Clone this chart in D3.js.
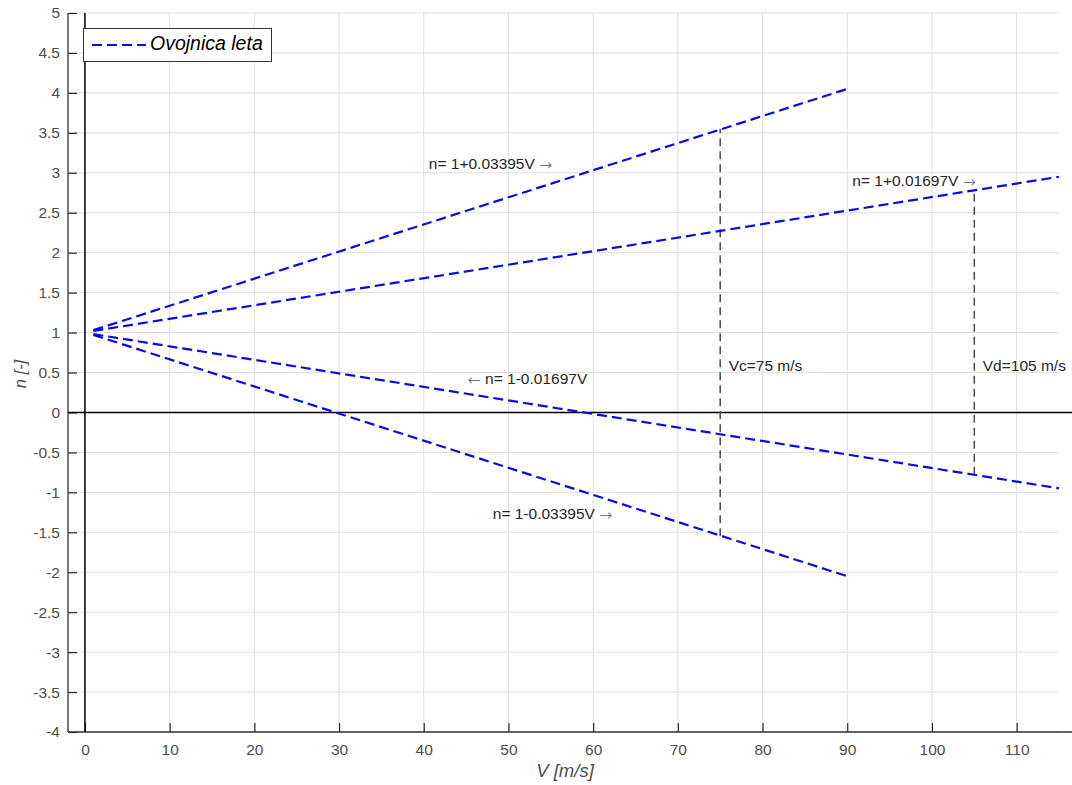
<!DOCTYPE html>
<html><head><meta charset="utf-8">
<script src="https://cdn.jsdelivr.net/npm/d3@7"></script>
<style>
body{margin:0;background:#fff;}
svg{display:block;font-family:"Liberation Sans",Arial,sans-serif;}
</style></head>
<body><svg id="c" width="1072" height="785"></svg>
<script>
// ---- data ----
const xTicks = [0,10,20,30,40,50,60,70,80,90,100,110];
const yTicks = [-4,-3.5,-3,-2.5,-2,-1.5,-1,-0.5,0,0.5,1,1.5,2,2.5,3,3.5,4,4.5,5];
const lineUpperSteep = [[1,1.03],[90,4.05]];
const lineUpperShallow = [[1,1.02],[115,2.95]];
const lineLowerShallow = [[1,0.98],[115,-0.95]];
const lineLowerSteep = [[1,0.97],[90,-2.05]];
const vcLine = [[75,-1.55],[75,3.55]];
const vdLine = [[105,-0.78],[105,2.78]];
const labelTexts = [["","n= 1+0.03395V ","\u2192"],["","n= 1+0.01697V ","\u2192"],["\u2190"," n= 1-0.01697V",""],["","n= 1-0.03395V ","\u2192"],["","Vc=75 m/s",""],["","Vd=105 m/s",""]];
const labelAnchors = [[40.6,3.10],[90.6,2.885],[45.2,0.41],[48.15,-1.28],[76,0.57],[106,0.57]];
const legendLabel = "Ovojnica leta";
const xLabel = "V [m/s]";
const yLabel = "n [-]";

// ---- layout ----
const L=68,R=1059,T=13,B=732;
const x=d3.scaleLinear().domain([-2,115]).range([L,R]);
const y=d3.scaleLinear().domain([-4,5]).range([B,T]);
const svg=d3.select("#c");

// grid
svg.append("g").selectAll("line").data(xTicks).join("line")
  .attr("x1",d=>x(d)).attr("x2",d=>x(d)).attr("y1",T).attr("y2",B)
  .attr("stroke","#e0e0e0").attr("stroke-width",1);
svg.append("g").selectAll("line").data(yTicks).join("line")
  .attr("x1",L).attr("x2",R).attr("y1",d=>y(d)).attr("y2",d=>y(d))
  .attr("stroke","#e0e0e0").attr("stroke-width",1);

// axes (inward ticks)
const xAxis=d3.axisBottom(x).tickValues(xTicks).tickSize(-9).tickPadding(12).tickFormat(d3.format("d"));
const gx=svg.append("g").attr("transform",`translate(0,${B})`).call(xAxis);
const yAxis=d3.axisLeft(y).tickValues(yTicks).tickSize(-9).tickPadding(8).tickFormat(d=>String(d));
const gy=svg.append("g").attr("transform",`translate(${L},0)`).call(yAxis);
[gx,gy].forEach(g=>{
  g.select(".domain").remove();
  g.selectAll(".tick line").attr("stroke","#262626").attr("stroke-width",1.2);
  g.selectAll(".tick text").attr("fill","#4d4d4d").style("font-size","15.5px").style("font-family","Liberation Sans, Arial, sans-serif");
});
svg.append("line").attr("x1",L).attr("x2",L).attr("y1",T).attr("y2",B).attr("stroke","#333").attr("stroke-width",1.3);
svg.append("line").attr("x1",L).attr("x2",R+18).attr("y1",B).attr("y2",B).attr("stroke","#333").attr("stroke-width",1.3);

// zero lines
svg.append("line").attr("x1",x(0)).attr("x2",x(0)).attr("y1",T).attr("y2",B).attr("stroke","#000").attr("stroke-width",1.5);
svg.append("line").attr("x1",L).attr("x2",R+18).attr("y1",y(0)).attr("y2",y(0)).attr("stroke","#000").attr("stroke-width",1.5);

const line=d3.line().x(d=>x(d[0])).y(d=>y(d[1]));
// vertical gray dashed
[vcLine,vdLine].forEach(p=>{
  svg.append("path").attr("d",line(p)).attr("fill","none").attr("stroke","#4a4a4a")
    .attr("stroke-width",1.5).attr("stroke-dasharray","8,5");
});
// envelope lines
[lineUpperSteep,lineUpperShallow,lineLowerShallow,lineLowerSteep].forEach(p=>{
  svg.append("path").attr("d",line(p)).attr("fill","none").attr("stroke","#0a0ae6")
    .attr("stroke-width",2.2).attr("stroke-dasharray","10,5");
});

// annotations
const ann=svg.append("g").selectAll("text").data(labelTexts).join("text")
  .attr("x",(d,i)=>x(labelAnchors[i][0])).attr("y",(d,i)=>y(labelAnchors[i][1]))
  .attr("dominant-baseline","middle").attr("fill","#262626").style("font-size","15.5px");
ann.each(function(d){
  const t=d3.select(this);
  if(d[0]) t.append("tspan").style("font-family","DejaVu Sans").style("font-weight","200").attr("fill","#555").text(d[0]);
  t.append("tspan").text(d[1]);
  if(d[2]) t.append("tspan").style("font-family","DejaVu Sans").style("font-weight","200").attr("fill","#555").text(d[2]);
});

// legend
const lg=svg.append("g");
lg.append("rect").attr("x",83.5).attr("y",28.5).attr("width",188).attr("height",33)
  .attr("fill","#fff").attr("stroke","#333").attr("stroke-width",1);
lg.append("line").attr("x1",92).attr("x2",146).attr("y1",45).attr("y2",45)
  .attr("stroke","#0a0ae6").attr("stroke-width",2.2).attr("stroke-dasharray","10,5");
lg.append("text").attr("x",150).attr("y",45).attr("dominant-baseline","middle")
  .attr("fill","#000").style("font-size","19.5px").style("font-style","italic").text(legendLabel);

// axis labels
svg.append("text").attr("x",565).attr("y",777).attr("text-anchor","middle")
  .attr("fill","#4d4d4d").style("font-size","18.5px").style("font-style","italic").text(xLabel);
svg.append("text").attr("transform","translate(26,374) rotate(-90)").attr("text-anchor","middle")
  .attr("fill","#4d4d4d").style("font-size","16.5px").style("font-style","italic").text(yLabel);
</script></body></html>
